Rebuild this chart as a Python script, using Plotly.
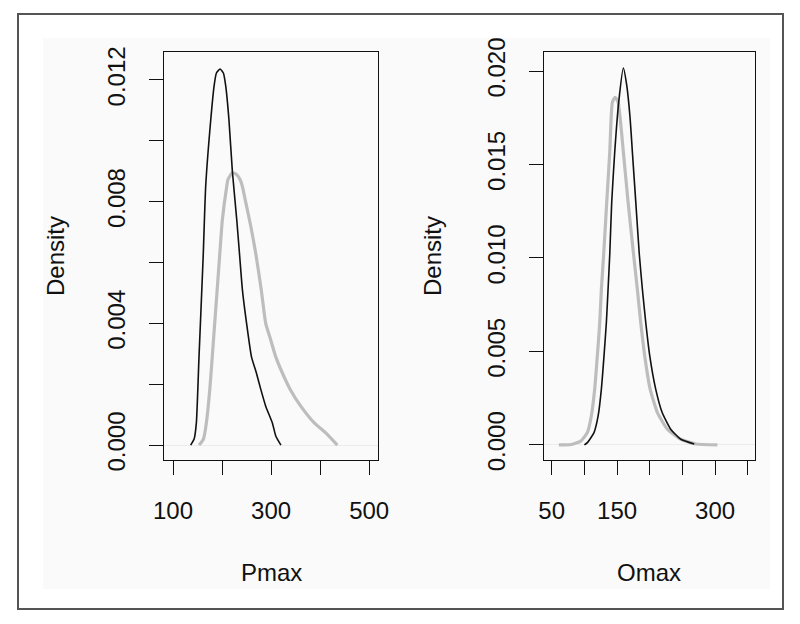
import plotly.graph_objects as go

# ---- data ----
pmax_black_x = [136, 143, 147.6, 153, 161.5, 166.6, 177, 183.7, 188.5, 196, 202.7, 207.5, 214, 221, 230, 236,
                241.5, 250, 260, 270, 279, 289, 302.6, 309.5, 320]
pmax_black_y = [0, 0.0002, 0.00073, 0.0029, 0.0062, 0.0085, 0.0107, 0.0118, 0.01223, 0.01236, 0.01223, 0.0118,
                0.0107, 0.009, 0.0074, 0.0062, 0.0051, 0.0040, 0.0029, 0.00237, 0.00183, 0.00128, 0.00073, 0.0003, 0]

pmax_gray_x = [153, 162, 168, 175, 180, 185, 190, 195, 200.6, 209.5, 212, 221, 229, 236.7, 241.5, 248, 258.5,
               268.7, 280, 289, 299, 309.5, 323, 339, 360.5, 388, 411.5, 435]
pmax_gray_y = [0, 0.0002, 0.00073, 0.00183, 0.0029, 0.0040, 0.0051, 0.0062, 0.0074, 0.0085, 0.00873, 0.00895,
               0.0089, 0.00873, 0.0085, 0.0080, 0.0072, 0.0063, 0.0051, 0.0040, 0.00347, 0.0029, 0.00237, 0.00183,
               0.00128, 0.00073, 0.0004, 0]

omax_black_x = [100, 104.5, 114.7, 121, 126, 130, 133.6, 136.2, 138.8, 141.8, 146.4, 152.5, 159.6, 164.8, 169.9,
                173.4, 178.6, 184, 188.7, 193.9, 200, 209, 219, 232, 247.5, 268]
omax_black_y = [0, 0.00012, 0.00066, 0.00155, 0.0030, 0.00476, 0.00654, 0.00833, 0.0102, 0.013, 0.01567, 0.01834,
                0.02016, 0.01923, 0.01749, 0.01567, 0.013, 0.0102, 0.00833, 0.00654, 0.00476, 0.0030, 0.00173,
                0.00084, 0.0003, 0.00005]

omax_gray_x = [61, 80, 94.4, 104.5, 110.6, 115.8, 119.8, 123.5, 126, 129.5, 134.2, 138.8, 142.8, 147, 151.5,
               159.6, 166.8, 174.9, 181, 186.2, 192.3, 200.5, 211.7, 227, 247.5, 270, 303.5]
omax_gray_y = [0, 0.00002, 0.0002, 0.00066, 0.00155, 0.0030, 0.00476, 0.00654, 0.00833, 0.0102, 0.013, 0.01567,
               0.01834, 0.0186, 0.01834, 0.01567, 0.013, 0.0103, 0.00833, 0.00654, 0.00476, 0.0030, 0.00173,
               0.00084, 0.0003, 0.00005, 0]

pmax_xticks = [100, 200, 300, 400, 500]
pmax_xlabels = ["100", "", "300", "", "500"]
pmax_yticks = [0.0, 0.002, 0.004, 0.006, 0.008, 0.010, 0.012]
pmax_ylabels = ["0.000", "", "0.004", "", "0.008", "", "0.012"]

omax_xticks = [50, 100, 150, 200, 250, 300, 350]
omax_xlabels = ["50", "", "150", "", "", "300", ""]
omax_yticks = [0.0, 0.005, 0.010, 0.015, 0.020]
omax_ylabels = ["0.000", "0.005", "0.010", "0.015", "0.020"]

# page is 800x624; the html body has an 8px margin, so the figure is 784x608 at offset (8, 8)
OFF = 8
W, H = 784, 608
FONT = "Liberation Sans, Arial, sans-serif"
GRAY = "#bdbdbd"
BLACK = "#111111"

def curve(x, y, color, width, xa, ya):
    return go.Scatter(x=x, y=y, mode="lines", line=dict(color=color, width=width, shape="spline", smoothing=0.5),
                      xaxis=xa, yaxis=ya, showlegend=False, hoverinfo="skip")

fig = go.Figure()
fig.add_trace(curve(pmax_gray_x, pmax_gray_y, GRAY, 3.2, "x", "y"))
fig.add_trace(curve(pmax_black_x, pmax_black_y, BLACK, 1.6, "x", "y"))
fig.add_trace(curve(omax_gray_x, omax_gray_y, GRAY, 3.2, "x2", "y2"))
fig.add_trace(curve(omax_black_x, omax_black_y, BLACK, 1.6, "x2", "y2"))

def px_x(p):
    return (p - OFF) / W

def px_y(p):
    return 1 - (p - OFF) / H

common_axis = dict(showline=True, linecolor=BLACK, linewidth=1.2, mirror=True, showgrid=False,
                   ticks="outside", ticklen=14, tickwidth=1.2, tickcolor=BLACK, automargin=False,
                   tickfont=dict(family=FONT, size=24, color=BLACK))

fig.update_layout(
    width=W, height=H,
    margin=dict(l=0, r=0, t=0, b=0, autoexpand=False),
    paper_bgcolor="white", plot_bgcolor="white",
    xaxis=dict(domain=[px_x(164), px_x(378)], range=[81.6, 518], tickmode="array",
               tickvals=pmax_xticks, ticktext=pmax_xlabels, anchor="y", zeroline=False,
               ticklabelstandoff=15, **common_axis),
    yaxis=dict(domain=[px_y(460), px_y(52)], range=[-0.00049, 0.01292], tickmode="array",
               tickvals=pmax_yticks, ticktext=pmax_ylabels, anchor="x", tickangle=-90,
               zeroline=True, zerolinecolor="#ececec", zerolinewidth=1, ticklabelstandoff=14, **common_axis),
    xaxis2=dict(domain=[px_x(544), px_x(755)], range=[38.2, 361], tickmode="array",
                tickvals=omax_xticks, ticktext=omax_xlabels, anchor="y2", zeroline=False,
                ticklabelstandoff=15, **common_axis),
    yaxis2=dict(domain=[px_y(460), px_y(52)], range=[-0.000808, 0.02102], tickmode="array",
                tickvals=omax_yticks, ticktext=omax_ylabels, anchor="x2", tickangle=-90,
                zeroline=True, zerolinecolor="#ececec", zerolinewidth=1, ticklabelstandoff=14, **common_axis),
)

# faint background panel and outer frame
fig.add_shape(type="rect", xref="paper", yref="paper", x0=px_x(43), x1=px_x(770), y0=px_y(589), y1=px_y(38),
              line=dict(width=0), fillcolor="#fafafa", layer="below")
fig.add_shape(type="rect", xref="paper", yref="paper", x0=px_x(18), x1=px_x(783), y0=px_y(609), y1=px_y(14),
              line=dict(color="#555555", width=2), fillcolor="rgba(0,0,0,0)")

for txt, x, y, ang in [("Pmax", 271, 572, 0), ("Omax", 649, 572, 0),
                       ("Density", 55, 256, -90), ("Density", 432, 256, -90)]:
    fig.add_annotation(text=txt, xref="paper", yref="paper", x=px_x(x), y=px_y(y), showarrow=False,
                       textangle=ang, xanchor="center", yanchor="middle",
                       font=dict(family=FONT, size=24, color=BLACK))

fig.write_html("out.html")
